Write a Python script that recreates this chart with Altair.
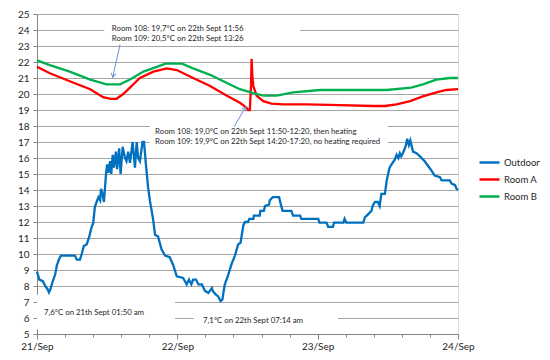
import altair as alt
import pandas as pd

# ---------------- data ----------------
DATE_LABELS = ["21/Sep", "22/Sep", "23/Sep", "24/Sep"]
X_TICKS = [0, 4.8, 9.6, 14.4, 19.2, 24, 28.8, 33.6, 38.4, 43.2, 48,
           52.8, 57.6, 62.4, 67.2, 72]          # hours since 21/Sep 00:00
Y_TICKS = list(range(5, 26))
SERIES = ["Outdoor", "Room A", "Room B"]
COLORS = ["#0070C0", "#FF0000", "#00B050"]

# (hour, °C)
OUTDOOR = [
    (0, 8.9), (0.4, 8.4), (1.0, 8.3), (1.4, 8.0), (1.8, 7.8), (2.05, 7.6), (2.3, 7.8),
    (2.7, 8.3), (3.1, 8.7), (3.4, 9.3), (3.8, 9.7), (4.1, 9.9), (6.5, 9.9), (6.8, 9.65),
    (7.35, 9.65), (7.65, 10.0), (8.0, 10.5), (8.5, 10.6), (8.95, 11.1), (9.35, 11.7),
    (9.6, 11.9), (9.9, 12.95), (10.2, 13.25), (10.5, 13.55), (10.8, 13.35), (10.95, 14.07),
    (11.2, 13.76), (11.45, 13.25), (11.8, 15.0), (12.0, 15.6), (12.25, 15.08), (12.5, 15.8),
    (12.7, 15.0), (12.95, 16.2), (13.15, 15.4), (13.5, 16.4), (13.7, 15.3), (14.05, 16.6),
    (14.3, 15.0), (14.65, 16.7), (15.05, 16.0), (15.3, 15.8), (15.6, 16.4), (15.9, 15.7),
    (16.35, 17.0), (16.75, 15.4), (17.05, 17.0), (17.3, 16.0), (17.6, 15.8), (18.05, 17.0),
    (18.3, 17.0), (18.6, 15.7), (19.0, 14.16), (19.3, 13.35), (19.8, 12.3), (20.2, 11.2),
    (20.7, 11.1), (21.3, 10.3), (21.9, 9.9), (22.7, 9.8), (23.3, 9.3), (23.9, 8.6),
    (25.0, 8.5), (25.3, 8.3), (25.6, 8.1), (26.0, 8.4), (26.4, 8.1), (26.7, 8.4),
    (27.2, 8.4), (27.6, 8.1), (28.2, 8.1), (28.7, 7.7), (29.3, 7.56), (29.9, 7.87),
    (30.1, 7.66), (30.6, 7.46), (31.0, 7.35), (31.4, 7.05), (31.7, 7.15), (32.1, 8.07),
    (32.7, 8.7), (33.3, 9.4), (33.85, 9.9), (34.4, 10.6), (34.8, 10.7), (35.3, 11.8),
    (35.55, 12.0), (36.1, 12.0), (36.3, 12.2), (37.0, 12.2), (37.1, 12.4), (38.1, 12.4),
    (38.2, 12.7), (38.8, 12.7), (39.0, 13.0), (39.7, 13.1), (39.8, 13.35), (40.3, 13.55),
    (41.4, 13.55), (41.7, 13.1), (42.0, 12.7), (43.5, 12.7), (43.8, 12.4), (45.0, 12.4),
    (45.2, 12.2), (48.1, 12.2), (48.3, 11.96), (49.5, 11.96), (49.8, 11.7), (50.6, 11.7),
    (50.8, 11.96), (52.4, 11.96), (52.6, 12.2), (52.9, 11.96), (55.8, 11.96), (56.1, 12.3),
    (56.4, 12.4), (57.2, 12.7), (57.4, 13.0), (57.8, 13.25), (58.3, 13.25), (58.6, 13.0),
    (58.9, 13.76), (59.5, 13.76), (59.8, 14.57), (60.05, 15.0), (60.3, 15.4), (60.8, 15.7),
    (61.2, 15.9), (61.5, 16.2), (61.8, 16.0), (62.05, 16.3), (62.3, 16.1), (62.7, 16.4),
    (63.1, 16.8), (63.3, 17.2), (63.6, 16.8), (63.85, 17.1), (64.3, 16.4), (64.9, 16.3),
    (65.5, 16.1), (66.3, 15.8), (66.9, 15.5), (67.5, 15.2), (68.0, 14.9), (68.9, 14.8),
    (69.2, 14.6), (70.6, 14.6), (70.9, 14.4), (71.5, 14.3), (71.75, 14.07), (72, 14.0),
]
ROOM_A = [
    (0, 21.7), (2.2, 21.3), (5.6, 20.8), (9.1, 20.3), (11.3, 19.8), (12.6, 19.7),
    (13.6, 19.7), (14.75, 20.0), (17.6, 21.0), (19.9, 21.4), (22.2, 21.6), (23.9, 21.5),
    (26.7, 21.0), (29.6, 20.5), (32.4, 19.9), (34.7, 19.45), (35.8, 19.15), (36.1, 19.0),
    (36.4, 19.0), (36.6, 20.5), (36.7, 22.2), (36.85, 21.0), (37.0, 20.5), (37.55, 19.9),
    (38.7, 19.55), (40.1, 19.4), (42.1, 19.35), (46.1, 19.35), (51.8, 19.3), (57.5, 19.25),
    (59.5, 19.25), (61.5, 19.35), (63.8, 19.55), (66.0, 19.85), (68.3, 20.1), (70.0, 20.25),
    (72, 20.3),
]
ROOM_B = [
    (0, 22.1), (2.2, 21.8), (5.6, 21.4), (9.1, 20.9), (11.9, 20.6), (14.2, 20.6),
    (15.9, 20.9), (18.2, 21.4), (20.5, 21.7), (22.0, 21.9), (24.8, 21.9), (26.7, 21.6),
    (29.6, 21.2), (32.4, 20.7), (34.7, 20.3), (37.0, 20.05), (38.7, 19.9), (41.0, 19.9),
    (43.8, 20.1), (48.4, 20.25), (59.8, 20.25), (64.0, 20.4), (66.0, 20.6), (68.3, 20.9),
    (70.6, 21.0), (72, 21.0),
]

NOTE_TEXTS = [
    "Room 108: 19,7°C on 22th Sept 11:56",
    "Room 109: 20,5°C on 22th Sept 13:26",
    "Room 108: 19,0°C on 22th Sept 11:50-12:20, then heating",
    "Room 109: 19,9°C on 22th Sept 14:20-17:20, no heating required",
    "7,6°C on 21th Sept 01:50 am",
    "7,1°C on 22th Sept 07:14 am",
]
NOTE_H = [12.8, 12.8, 20.2, 20.2, 1.2, 28.4]
NOTE_T = [24.05, 23.45, 17.62, 17.0, 6.34, 5.8]

# white label boxes hiding the gridlines: (h1, h2, t1, t2)
BOXES = [(11.5, 45.0, 24.55, 23.15), (19.3, 60.0, 18.3, 16.6),
         (0.0, 23.6, 7.45, 5.3), (26.8, 51.5, 6.45, 5.45)]
# arrows: (tail h, tail t, tip h, tip t, head angle)
ARROWS = [(14.2, 23.1, 12.95, 21.05, 12), (33.7, 17.95, 35.7, 19.2, 211)]

# ---------------- build ----------------
FONT = "Lato"
TXT = "#262626"

lines_df = pd.DataFrame([{"h": h, "t": t, "series": name}
                         for name, pts in zip(SERIES, [OUTDOOR, ROOM_A, ROOM_B])
                         for h, t in pts])
notes_df = pd.DataFrame({"h": NOTE_H, "t": NOTE_T, "label": NOTE_TEXTS})
boxes_df = pd.DataFrame(BOXES, columns=["h", "h2", "t", "t2"])
arrows_df = pd.DataFrame(ARROWS, columns=["h", "t", "h2", "t2", "ang"])

major_test = "abs(datum.value/24 - round(datum.value/24)) < 0.001"
label_list = "[" + ",".join("'%s'" % s for s in DATE_LABELS) + "]"
label_expr = f"{major_test} ? {label_list}[round(datum.value/24)] : ''"

xscale = alt.Scale(domain=[0, 72], nice=False, zero=False)
yscale = alt.Scale(domain=[5, 25], nice=False, zero=False)

xaxis = alt.Axis(values=X_TICKS, labelExpr=label_expr, grid=False, title=None,
                 tickSize={"condition": {"test": major_test, "value": 5}, "value": 3},
                 tickColor="#868686", domainColor="#868686", labelFont=FONT,
                 labelFontSize=10, labelColor=TXT, labelPadding=2, labelFlush=False,
                 labelOverlap=False)
yaxis = alt.Axis(values=Y_TICKS, grid=True, gridColor="#A6A6A6", gridWidth=1.2,
                 title=None, tickSize=4, tickColor="#868686", domainColor="#868686",
                 labelFont=FONT, labelFontSize=10, labelColor=TXT, labelPadding=4)

X = alt.X("h:Q", scale=xscale, axis=xaxis)
Y = alt.Y("t:Q", scale=yscale, axis=yaxis)

boxes = alt.Chart(boxes_df).mark_rect(fill="white", stroke=None).encode(
    x=X, x2="h2:Q", y=Y, y2="t2:Q")

lines = alt.Chart(lines_df).mark_line(strokeWidth=2.3).encode(
    x=X, y=Y,
    color=alt.Color("series:N",
                    scale=alt.Scale(domain=SERIES, range=COLORS),
                    legend=alt.Legend(orient="none", legendX=441, legendY=137,
                                      title=None, symbolType="stroke",
                                      symbolSize=400, symbolStrokeWidth=2.5,
                                      labelFont=FONT, labelFontSize=9.5,
                                      labelColor=TXT, rowPadding=0,
                                      labelOffset=3, padding=0)),
    order="h:Q")

shafts = alt.Chart(arrows_df).mark_rule(color="#6F8FD6", strokeWidth=1).encode(
    x=X, y=Y, x2="h2:Q", y2="t2:Q")

heads = alt.Chart(arrows_df).mark_point(
    shape="M-0.6,-1L0,0L0.6,-1", filled=False, color="#6F8FD6",
    strokeWidth=1, size=60, opacity=1).encode(
    x=alt.X("h2:Q", scale=xscale, axis=xaxis),
    y=alt.Y("t2:Q", scale=yscale, axis=yaxis),
    angle=alt.Angle("ang:Q", scale=None))

notes = alt.Chart(notes_df).mark_text(
    align="left", baseline="middle", font=FONT, fontSize=7.8, color=TXT).encode(
    x=X, y=Y, text="label:N")

chart = alt.layer(boxes, lines, shafts, heads, notes).properties(
    width=421, height=320,
    padding={"left": 29, "top": 6, "right": 84, "bottom": 18},
    autosize=alt.AutoSizeParams(type="none"),
).configure_view(stroke="#868686", strokeWidth=1).configure(background="white")

chart.save("out.html", embed_options={"renderer": "svg", "actions": False})
